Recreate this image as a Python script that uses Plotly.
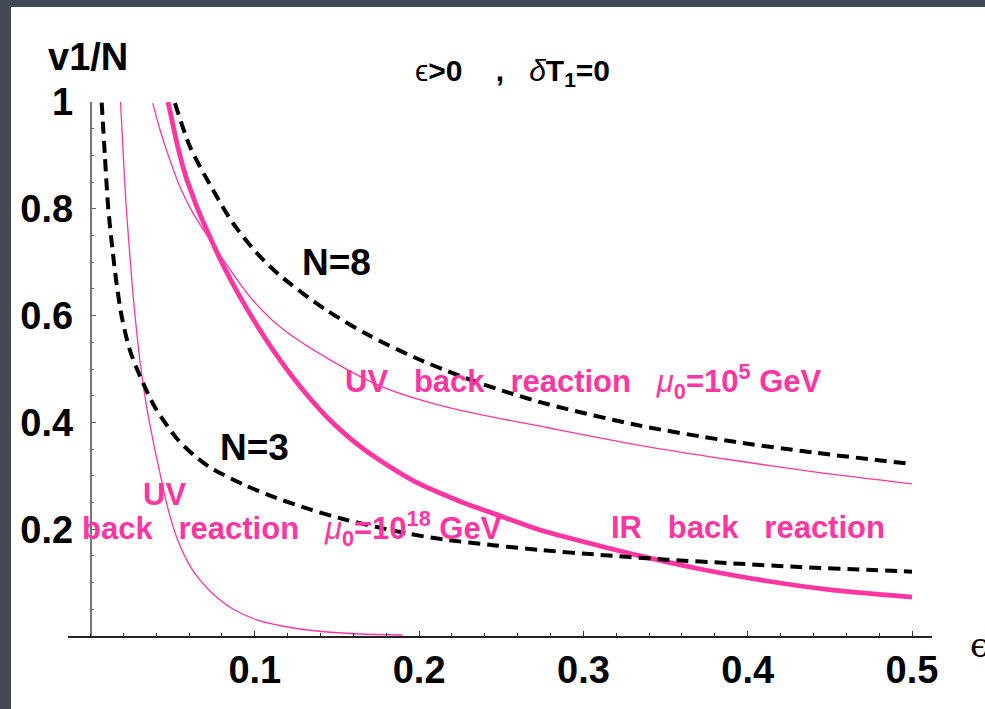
import plotly.graph_objects as go

# ---------------- data ----------------
# N=8 (upper dashed black)
n8_x = [0.0514, 0.0606, 0.0746, 0.0867, 0.101, 0.115, 0.1427, 0.1695, 0.197, 0.224, 0.251, 0.2785, 0.3326, 0.387, 0.4416, 0.5]
n8_y = [0.998, 0.916, 0.835, 0.773, 0.718, 0.676, 0.612, 0.563, 0.522, 0.488, 0.459, 0.434, 0.395, 0.366, 0.343, 0.322]

# N=3 (lower dashed black)
n3_x = [0.0068, 0.0088, 0.0107, 0.0137, 0.016, 0.019, 0.024, 0.0301, 0.0393, 0.0525, 0.0624, 0.0727, 0.0928, 0.1135,
        0.1336, 0.1537, 0.1744, 0.1945, 0.2145, 0.245, 0.2736, 0.31, 0.351, 0.391, 0.432, 0.4727, 0.5]
n3_y = [0.999, 0.897, 0.805, 0.715, 0.657, 0.598, 0.535, 0.487, 0.428, 0.370, 0.340, 0.316, 0.284, 0.258,
        0.237, 0.219, 0.204, 0.191, 0.181, 0.170, 0.161, 0.152, 0.143, 0.136, 0.129, 0.124, 0.1205]

# IR back reaction (thick pink)
ir_x = [0.0472, 0.0496, 0.0526, 0.0557, 0.0587, 0.0618, 0.0648, 0.0727, 0.0806, 0.091, 0.1031, 0.1153, 0.1287,
        0.1452, 0.1671, 0.1969, 0.2243, 0.2511, 0.2736, 0.3102, 0.3345, 0.371, 0.4117, 0.4519, 0.5]
ir_y = [1.0, 0.966, 0.923, 0.885, 0.854, 0.828, 0.803, 0.747, 0.695, 0.635, 0.573, 0.517, 0.463,
        0.406, 0.348, 0.290, 0.253, 0.223, 0.1985, 0.1685, 0.150, 0.1255, 0.103, 0.086, 0.073]

# UV back reaction, mu0 = 10^5 GeV (thin pink, upper)
uv5_x = [0.0379, 0.0423, 0.0484, 0.0545, 0.0624, 0.0727, 0.0825, 0.0971, 0.1153, 0.1458, 0.178, 0.2188, 0.2785,
         0.3326, 0.387, 0.4416, 0.5]
uv5_y = [0.998, 0.948, 0.891, 0.841, 0.792, 0.742, 0.697, 0.635, 0.579, 0.517, 0.466, 0.427, 0.390,
         0.358, 0.331, 0.307, 0.285]

# UV back reaction, mu0 = 10^18 GeV (thin pink, lower)
uv18_x = [0.0183, 0.0198, 0.0216, 0.0237, 0.0259, 0.028, 0.0301, 0.0338, 0.038, 0.0423, 0.0466, 0.0526, 0.0606,
          0.0666, 0.0746, 0.0867, 0.1032, 0.1233, 0.144, 0.164, 0.19]
uv18_y = [1.0, 0.910, 0.809, 0.723, 0.639, 0.573, 0.515, 0.436, 0.367, 0.305, 0.245, 0.1835, 0.131,
          0.105, 0.0787, 0.0506, 0.0281, 0.015, 0.0075, 0.0037, 0.0019]

x_tick_vals = [0.1, 0.2, 0.3, 0.4, 0.5]
x_tick_text = ["0.1", "0.2", "0.3", "0.4", "0.5"]
y_tick_vals = [0.2, 0.4, 0.6, 0.8, 1.0]
y_tick_text = ["0.2", "0.4", "0.6", "0.8", "1"]

# ---------------- styling ----------------
PINK = "#ff35a2"
BG = "#434856"
FONT = "Liberation Sans, Arial, Helvetica, sans-serif"
W, H = 985, 709
L, R, T, B = 68, 53, 102, 73
PW, PH = W - L - R, H - T - B


def px(xp):
    return (xp - L) / PW


def py(yp):
    return (H - B - yp) / PH


fig = go.Figure()
fig.add_trace(go.Scatter(x=uv18_x, y=uv18_y, mode="lines",
                         line=dict(color=PINK, width=1.3, shape="spline", smoothing=0.8)))
fig.add_trace(go.Scatter(x=uv5_x, y=uv5_y, mode="lines",
                         line=dict(color=PINK, width=1.3, shape="spline", smoothing=0.8)))
fig.add_trace(go.Scatter(x=ir_x, y=ir_y, mode="lines",
                         line=dict(color=PINK, width=4.8, shape="spline", smoothing=0.8)))
fig.add_trace(go.Scatter(x=n3_x, y=n3_y, mode="lines",
                         line=dict(color="black", width=4, dash="12px,7px", shape="spline", smoothing=0.8)))
fig.add_trace(go.Scatter(x=n8_x, y=n8_y, mode="lines",
                         line=dict(color="black", width=4, dash="12px,7px", shape="spline", smoothing=0.8)))

x0_frac = (90.5 - L) / PW
x_lo = -(90.5 - L) / 1643
x_hi = x_lo + PW / 1643

fig.update_layout(
    width=W, height=H,
    margin=dict(l=L, r=R, t=T, b=B),
    paper_bgcolor=BG,
    plot_bgcolor="rgba(0,0,0,0)",
    showlegend=False,
    xaxis=dict(range=[x_lo, x_hi], showgrid=False, zeroline=False,
               showline=True, linecolor="#222", linewidth=1.5,
               ticks="inside", ticklen=5, tickcolor="#333", tickwidth=1,
               tickmode="array", tickvals=x_tick_vals, ticktext=x_tick_text,
               tickfont=dict(family=FONT, size=38, color="black", weight="bold"),
               ticklabelstandoff=0,
               minor=dict(ticks="inside", ticklen=3, tickcolor="#333", dtick=0.02, tick0=0, showgrid=False)),
    yaxis=dict(range=[0, 1.0], showgrid=False, zeroline=False,
               anchor="free", position=x0_frac,
               showline=True, linecolor="#777", linewidth=1.5,
               ticks="inside", ticklen=5, tickcolor="#666", tickwidth=1,
               tickmode="array", tickvals=y_tick_vals, ticktext=y_tick_text,
               tickfont=dict(family=FONT, size=38, color="black", weight="bold"),
               ticklabelstandoff=9,
               minor=dict(ticks="inside", ticklen=3, tickcolor="#666", dtick=0.05, tick0=0, showgrid=False)),
    shapes=[dict(type="rect", xref="paper", yref="paper", layer="below",
                 x0=px(11), x1=px(1000), y0=py(720), y1=py(7),
                 fillcolor="white", line=dict(width=0))],
)

NB = "\u00a0"
MU = "<span style='font-weight:normal'><i>μ</i></span><sub>0</sub>"


def lab(xp, yp, text, size, color, anchor="center", bold=True, family=FONT):
    f = dict(family=family, size=size, color=color)
    if bold:
        f["weight"] = "bold"
    return dict(x=px(xp), y=py(yp), xref="paper", yref="paper", xanchor=anchor, yanchor="middle",
                text=text, showarrow=False, font=f)


ann = [
    lab(46, 57, "v1/N", 38, "black", anchor="left"),
    lab(968, 645, "ϵ", 34, "black", anchor="left", bold=False, family="DejaVu Serif"),
    lab(413, 73, f"<span style='font-weight:normal'>ϵ</span>&gt;0{NB*4},{NB*3}"
                 f"<span style='font-weight:normal'><i>δ</i></span>T<sub>1</sub>=0", 30, "black", anchor="left"),
    lab(336, 262, "N=8", 37, "black"),
    lab(254, 447, "N=3", 37, "black"),
    lab(583, 381, f"UV{NB*3}back{NB*3}reaction{NB*3}{MU}=10<sup>5</sup>{NB}GeV", 31, PINK),
    lab(748, 527, f"IR{NB*3}back{NB*3}reaction", 31, PINK),
    lab(164, 494, "UV", 31, PINK),
    lab(80, 528, f"back{NB*3}reaction{NB*3}{MU}=10<sup>18</sup>{NB}GeV", 31, PINK, anchor="left"),
]
fig.update_layout(annotations=ann)

fig.write_html("out.html", config={"displayModeBar": False},
               post_script=f"document.body.style.margin='0px';document.body.style.background='{BG}';")
